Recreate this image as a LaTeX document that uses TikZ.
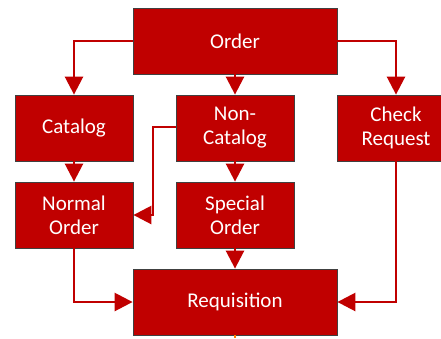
\documentclass[tikz,border=0pt]{standalone}
\usepackage{fontspec}
\setmainfont{Carlito}
\usetikzlibrary{arrows.meta}
\definecolor{boxred}{HTML}{C00000}
\definecolor{boxedge}{HTML}{404040}
\begin{document}
\begin{tikzpicture}[x=1pt,y=-1pt,
  box/.style={draw=boxedge,line width=0.8pt,fill=boxred,text=white,inner sep=0pt,align=center,
    font=\fontsize{21}{24}\selectfont},
  small/.style={box,minimum width=118pt,minimum height=66pt},
  big/.style={box,minimum width=204pt,minimum height=66pt},
  conn/.style={draw=boxred,line width=2.6pt,-{Triangle[width=18pt,length=18pt]}}]
\useasboundingbox (0,0) rectangle (441,338);
\node[big]   (order) at (235,41)  {Order};
\node[small] (cat)   at (74,128)  {Catalog};
\node[small] (ncat)  at (235,128) {Non-\\Catalog};
\node[small] (chk)   at (396,128) {Check\\Request};
\node[small] (norm)  at (74,215)  {Normal\\Order};
\node[small] (spec)  at (235,215) {Special\\Order};
\node[big]   (req)   at (235,302) {Requisition};
\draw[conn] (order.west) -| (cat.north);
\draw[conn] (order.east) -| (chk.north);
\draw[conn] (order.south) -- (ncat.south |- ncat.north);
\draw[conn] (cat.south) -- (norm.north);
\draw[conn] (ncat.south) -- (spec.north);
\coordinate (e1) at (153,127);
\coordinate (e2) at (153,215);
\draw[conn] (ncat.west |- e1) -- (e1) -- (e2) -- (norm.east);
\draw[conn] (spec.south) -- (req.north);
\draw[conn] (norm.south) |- (req.west);
\draw[conn] (chk.south) |- (req.east);
\draw[orange,line width=1.5pt] (235,335) -- (235,338);
\end{tikzpicture}
\end{document}
